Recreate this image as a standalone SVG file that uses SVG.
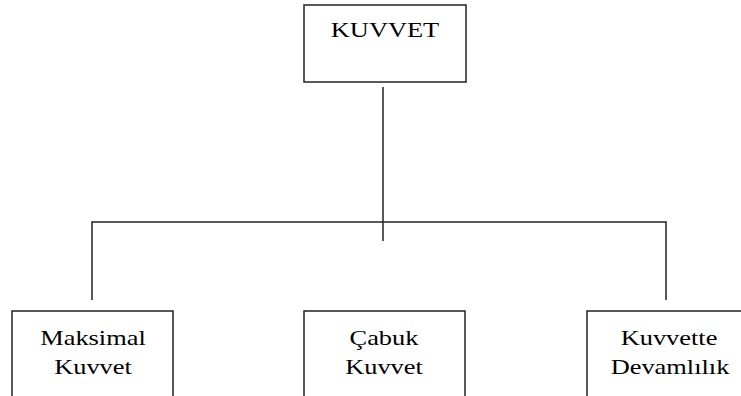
<svg xmlns="http://www.w3.org/2000/svg" width="741" height="396" viewBox="0 0 741 396">
  <style>
    .box { fill: #ffffff; stroke: #222222; stroke-width: 1.5; }
    .wire { fill: none; stroke: #222222; stroke-width: 1.5; }
    .label { font-family: 'Liberation Serif', 'Times New Roman', serif; font-size: 22px; fill: #000000; text-anchor: middle; }
  </style>
  <rect width="741" height="396" fill="#ffffff"/>

  <!-- connectors -->
  <g id="connectors">
    <line class="wire" x1="383" y1="87" x2="383" y2="241"/>
    <polyline class="wire" points="92,300 92,222 666,222 666,300"/>
  </g>

  <!-- root node -->
  <g id="node-kuvvet">
    <rect class="box" x="304" y="5" width="162" height="77"/>
    <text class="label" transform="translate(385,37) scale(1.2,1)">KUVVET</text>
  </g>

  <!-- child nodes -->
  <g id="node-maksimal">
    <rect class="box" x="12" y="311" width="161" height="100"/>
    <text class="label" transform="translate(93,345) scale(1.2,1)">Maksimal</text>
    <text class="label" transform="translate(93,374) scale(1.2,1)">Kuvvet</text>
  </g>

  <g id="node-cabuk">
    <rect class="box" x="304" y="311" width="161" height="100"/>
    <text class="label" transform="translate(384,345) scale(1.2,1)">Çabuk</text>
    <text class="label" transform="translate(384,374) scale(1.2,1)">Kuvvet</text>
  </g>

  <g id="node-devamlilik">
    <rect class="box" x="587" y="311" width="161" height="100"/>
    <text class="label" transform="translate(669,345) scale(1.2,1)">Kuvvette</text>
    <text class="label" transform="translate(670,374) scale(1.2,1)">Devamlılık</text>
  </g>
</svg>
